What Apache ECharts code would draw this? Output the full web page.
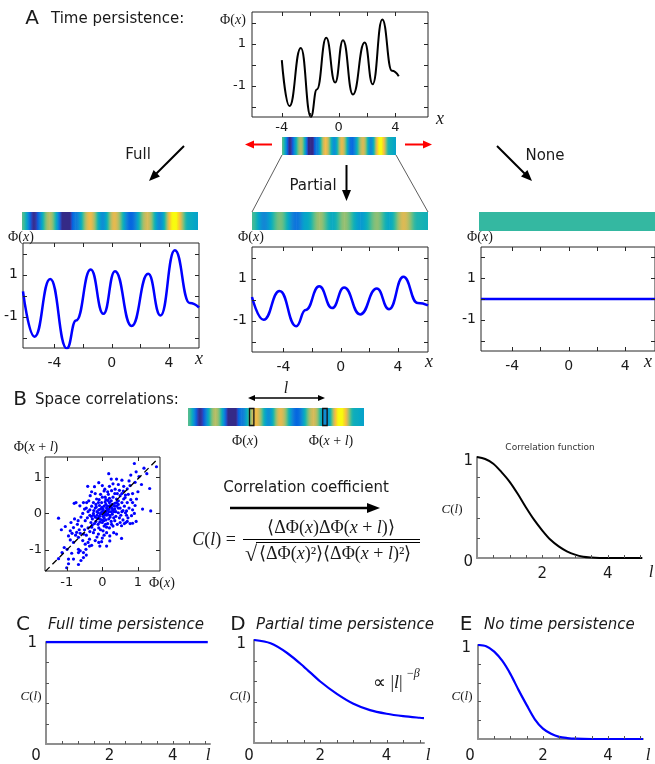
<!DOCTYPE html>
<html><head><meta charset="utf-8">
<script src="https://cdn.jsdelivr.net/npm/echarts@6/dist/echarts.min.js"></script>
<style>html,body{margin:0;padding:0;background:#fff}#c{width:655px;height:764px}</style>
</head><body><div id="c"></div>
<script>
// ---------------- DATA ----------------
// Panel A top: field snapshot (black curve), x and Phi at extrema / bends
const topX   = [-4.0, -3.46, -2.66, -1.95, -1.53, -0.87, -0.24, 0.31, 1.01, 1.84, 2.40, 3.08, 3.76, 4.24];
const topPhi = [0.21, -1.98, 0.79, -2.49, -1.19, 1.27, -0.86, 1.16, -1.43, 1.05, -0.94, 2.14, -0.30, -0.56];
// Full time persistence
const fullX   = [-6.2, -5.39, -4.30, -3.14, -2.49, -1.47, -0.58, 0.23, 1.39, 2.55, 3.41, 4.41, 5.45, 6.1];
const fullPhi = [0.20, -1.96, 0.79, -2.52, -1.19, 1.24, -0.87, 1.16, -1.45, 1.03, -0.95, 2.15, -0.36, -0.57];
// Partial time persistence
const partialX   = [-6.2, -5.39, -4.27, -3.11, -2.45, -1.50, -0.60, 0.24, 1.36, 2.52, 3.38, 4.38, 5.38, 6.1];
const partialPhi = [0.12, -0.97, 0.41, -1.27, -0.50, 0.63, -0.41, 0.57, -0.71, 0.52, -0.46, 1.08, -0.17, -0.28];
// No time persistence
const noneX   = [-6.2, 6.1];
const nonePhi = [0, 0];
// Colour limits of the colour bars
const colorLimits = [-2, 2];
// Panel B: positions of the two marked cells on the colour bar
const markerX = [-1.75, 3.37];
// Panel B scatter: [Phi(x), Phi(x+l)]
const scatterPoints = [
[0.90,1.38],[1.52,1.29],[1.17,1.25],[0.80,1.06],[1.03,1.02],[0.18,1.10],[1.33,0.69],[0.00,0.77],[-0.41,0.75],[-0.22,0.74],
[0.78,0.77],[0.92,0.86],[0.96,0.40],[1.13,0.12],[1.36,0.07],[-0.34,0.49],[-0.16,0.40],[0.07,0.67],[0.26,0.63],[0.36,0.67],
[0.48,0.64],[0.59,0.62],[0.65,0.51],[0.73,0.53],[0.50,0.49],[0.40,0.40],[0.17,0.53],[-0.05,0.53],[-0.11,0.30],[-0.25,0.30],
[-0.44,0.30],[-0.53,0.30],[-0.74,0.30],[-0.79,0.28],[-0.63,0.21],[-0.50,0.12],[-0.30,0.20],[-0.20,0.15],[-0.10,0.10],[0.00,0.05],
[0.05,0.20],[0.10,0.25],[0.15,0.12],[0.20,0.30],[0.25,0.18],[0.30,0.10],[0.35,0.28],[0.40,0.20],[0.45,0.35],[0.50,0.15],
[0.55,0.30],[0.60,0.40],[0.62,0.20],[0.70,0.30],[0.75,0.15],[0.80,0.38],[-0.40,0.05],[-0.35,-0.05],[-0.25,0.00],[-0.15,-0.05],
[-0.05,-0.02],[0.02,-0.08],[0.08,0.00],[0.12,-0.05],[0.18,0.05],[0.22,-0.10],[0.28,-0.02],[0.32,0.05],[0.38,-0.08],[0.45,0.02],
[0.52,-0.05],[0.58,0.08],[0.65,0.02],[0.72,-0.12],[0.85,0.10],[0.92,0.22],[-0.60,-0.10],[-0.55,0.00],[-0.48,-0.20],[-0.42,-0.12],
[-0.32,-0.25],[-0.28,-0.15],[-0.18,-0.22],[-0.12,-0.30],[-0.08,-0.15],[0.00,-0.25],[0.05,-0.35],[0.10,-0.18],[0.15,-0.28],[0.20,-0.40],
[0.25,-0.22],[0.30,-0.35],[0.35,-0.20],[0.42,-0.30],[0.50,-0.25],[0.58,-0.18],[0.62,-0.28],[0.70,-0.22],[0.78,-0.28],[0.85,-0.27],
[0.95,-0.22],[0.68,-0.05],[0.55,0.55],[0.42,0.55],[0.30,0.45],[0.20,0.42],[0.10,0.38],[-0.02,0.30],[-0.08,0.22],[0.02,0.12],
[0.08,0.45],[0.15,0.60],[0.25,0.35],[0.35,0.55],[0.45,0.15],[0.12,0.15],[-1.23,-0.13],[-1.04,-0.36],[-1.15,-0.45],[-0.90,-0.48],
[-0.81,-0.39],[-0.72,-0.52],[-0.67,-0.66],[-0.53,-0.57],[-0.36,-0.71],[-0.25,-0.53],[-0.11,-0.57],[-0.02,-0.78],[0.12,-0.53],[0.21,-0.62],
[0.32,-0.53],[0.40,-0.57],[0.54,-0.34],[0.66,-0.25],[-0.90,-0.73],[-0.81,-0.80],[-0.67,-0.99],[-0.62,-1.03],[-1.07,-0.94],[-0.99,-0.99],
[-1.13,-1.08],[-0.86,-1.10],[-0.67,-1.08],[-0.53,-1.08],[-0.46,-0.99],[-0.36,-0.90],[-0.07,-0.90],[0.12,-0.90],[0.21,-0.76],[0.54,-0.69],
[-1.23,-1.25],[-0.95,-1.26],[-0.81,-1.26],[-0.53,-1.22],[-0.67,-1.41],[-0.95,-1.39],[-1.00,-1.50],[-0.60,-1.30],[-0.45,-1.15],[-0.70,-0.30],
[-0.65,-0.45],[-0.58,-0.35],[-0.50,-0.45],[-0.45,-0.60],[-0.40,-0.40],[-0.35,-0.50],[-0.30,-0.38],[-0.22,-0.45],[-0.15,-0.65],[-0.05,-0.45],
[0.05,-0.60],[0.02,-0.48],[-0.55,-0.75],[-0.48,-0.85],[-0.40,-0.80],[-0.30,-0.88],[-0.20,-0.75],[-0.10,-0.80],[0.00,-0.68],[-0.75,-0.60],
[-0.85,-0.55],[-0.95,-0.62],[-0.78,-0.15],[-0.88,-0.25],[-0.68,-0.20],[-0.62,-0.55],[-0.25,-0.05],[-0.45,0.15],[-0.38,0.35],[-0.20,0.55],
[-0.30,0.60],[0.00,0.45],[0.05,0.62],[0.20,0.75],[0.30,0.82],[0.45,0.80],[0.60,0.75],[0.70,0.68],[0.85,0.55],[0.40,0.95],
[0.55,0.92],[0.25,0.95],[-0.10,0.85],[0.75,0.90],[1.00,0.60],[1.10,0.80],[0.95,1.15],[1.25,1.10],[0.85,0.30],[0.82,-0.06],
[0.90,0.00],[0.68,0.07],[0.64,0.44],[-0.15,0.05],[0.05,-0.12],[0.15,-0.02],[-0.05,0.12],[0.25,0.05],[-0.20,-0.10],[0.35,0.12],
[-0.12,0.02],[0.03,0.08],[0.18,-0.15],[-0.02,-0.18],[0.10,0.05],[-0.08,-0.08],[0.22,0.22],[0.28,0.25],[-0.18,0.25],[0.12,-0.38],
[-0.28,-0.32],[0.40,0.30],[0.48,-0.12],[-0.35,0.10],[0.08,0.32],[0.32,-0.12],[-0.22,-0.28],[0.15,0.20],[0.55,0.05],[-0.10,-0.40],
[-0.04,0.02],[0.06,-0.04],[-0.01,0.17],[0.13,0.09],[-0.14,-0.13],[0.19,0.12],[0.27,0.14],[-0.07,-0.24],[0.04,-0.20],[0.21,-0.05],
[-0.24,0.08],[0.34,0.20],[0.09,-0.30],[-0.17,0.18],[0.38,0.05],[-0.31,-0.08],[0.26,-0.30],[0.45,0.25],[-0.09,0.38],[0.16,0.36]
];
const diagX = [-1.6, 1.5];
const diagY = [-1.6, 1.45];
// Panel B right: correlation function
const corrBL = [0,0.25,0.5,0.75,1,1.25,1.5,1.75,2,2.25,2.5,2.75,3,3.25,3.5,3.75,4,4.5,5.05];
const corrBC = [1,0.98,0.934,0.85,0.754,0.633,0.50,0.377,0.272,0.18,0.115,0.066,0.033,0.013,0.005,0.001,0,0,0];
// Panel C
const fullCorrL = [0, 5.1];
const fullCorrC = [1, 1];
// Panel D
const partialCorrL = [0,0.5,1,1.5,2,2.5,3,3.5,4,4.5,5,5.13];
const partialCorrC = [1,0.968,0.874,0.742,0.597,0.477,0.381,0.319,0.284,0.261,0.245,0.242];
// Panel E
const noneCorrL = [0,0.25,0.5,0.75,1,1.25,1.5,1.75,2,2.25,2.5,2.75,3,3.5,4,4.5,5.08];
const noneCorrC = [1,0.987,0.93,0.83,0.69,0.52,0.36,0.21,0.11,0.056,0.023,0.01,0.003,0,0,0,0];
// Tick labels
const phiTickValues = [-2,-1,0,1,2];
const phiLabelValues = [-1, 1];
const xTickValues = [-4,-2,0,2,4];
const xLabelValues = [-4, 0, 4];
const scatterTicks = [-1, 0, 1];
const lLabelValues = [0, 2, 4];
const lTickValues = [0.5,1,1.5,2,2.5,3,3.5,4,4.5,5];
const cTickValues = [0.2,0.4,0.6,0.8];

// ---------------- STYLE ----------------
const SANS = 'DejaVu Sans';
const SERIF = 'Liberation Serif';
const INK = '#1a1a1a';
const BLUE = '#0000ff';
const PARULA = [
 [0,[53,42,135]],[4/63,[50,67,186]],[8/63,[3,99,225]],[12/63,[13,117,220]],[16/63,[20,133,212]],
 [20/63,[9,152,209]],[24/63,[6,167,198]],[28/63,[21,177,180]],[32/63,[56,185,158]],[36/63,[101,190,134]],
 [40/63,[146,191,115]],[44/63,[183,189,100]],[48/63,[217,186,86]],[52/63,[248,187,68]],[56/63,[252,206,46]],
 [60/63,[245,228,29]],[1,[249,251,14]]
];
function parula(v){
  let t = (v - colorLimits[0]) / (colorLimits[1] - colorLimits[0]);
  t = Math.max(0, Math.min(1, t));
  for (let i = 0; i < PARULA.length - 1; i++) {
    const a = PARULA[i], b = PARULA[i+1];
    if (t <= b[0]) {
      const f = (t - a[0]) / (b[0] - a[0]);
      const c = a[1].map((u, k) => Math.round(u + (b[1][k] - u) * f));
      return 'rgb(' + c.join(',') + ')';
    }
  }
  return 'rgb(249,251,14)';
}

const grids = [], xAxes = [], yAxes = [], series = [];
function addGrid(left, top, width, height, box){
  grids.push({left, top, width, height, containLabel:false, show:!!box, borderColor:'#262626', borderWidth:1, backgroundColor:'transparent'});
  return grids.length - 1;
}
function hiddenAxes(gi, xr, yr){
  xAxes.push({type:'value', gridIndex:gi, min:xr[0], max:xr[1], show:false});
  yAxes.push({type:'value', gridIndex:gi, min:yr[0], max:yr[1], show:false});
  return [xAxes.length-1, yAxes.length-1];
}
const NOLINE = {show:false, onZero:false};
function lbl(vals, margin, fs){ return {show:true, customValues:vals, margin, fontSize:fs, fontFamily:SANS, color:INK}; }
// Inside tick marks, placed through the axes' own scales (one item per grid draws all its ticks)
function tickSeries(ax, xr, yr, xt, yt, o){
  const xm = (xr[0] + xr[1]) / 2, ym = (yr[0] + yr[1]) / 2;
  series.push({type:'custom', xAxisIndex:ax[0], yAxisIndex:ax[1], data:[[xm, ym]], encode:{x:0, y:1}, silent:true, animation:false, z:6, clip:false,
    renderItem:(params, api) => {
      const cs = params.coordSys, L = o.len;
      const st = {stroke:o.color, lineWidth:o.width};
      const kids = [];
      xt.forEach(v => {
        const px = Math.round(api.coord([v, ym])[0]) + 0.5, b = cs.y + cs.height;
        kids.push({type:'line', shape:{x1:px, y1:b, x2:px, y2:b - L}, style:st});
        if (o.both) kids.push({type:'line', shape:{x1:px, y1:cs.y, x2:px, y2:cs.y + L}, style:st});
      });
      yt.forEach(v => {
        const py = Math.round(api.coord([xm, v])[1]) + 0.5;
        kids.push({type:'line', shape:{x1:cs.x, y1:py, x2:cs.x + L, y2:py}, style:st});
        if (o.both) kids.push({type:'line', shape:{x1:cs.x + cs.width, y1:py, x2:cs.x + cs.width - L, y2:py}, style:st});
      });
      return {type:'group', children:kids};
    }});
}
function boxAxes(gi, xr, yr, o){
  const xi = xAxes.length;
  xAxes.push({type:'value', gridIndex:gi, min:xr[0], max:xr[1], position:'bottom', axisLine:NOLINE, splitLine:{show:false}, axisTick:{show:false}, axisLabel:lbl(o.xLabels, o.xMargin, o.fs)});
  const yi = yAxes.length;
  yAxes.push({type:'value', gridIndex:gi, min:yr[0], max:yr[1], position:'left', axisLine:NOLINE, splitLine:{show:false}, axisTick:{show:false}, axisLabel:lbl(o.yLabels, o.yMargin, o.fs)});
  tickSeries([xi, yi], xr, yr, o.xTicks, o.yTicks, {len:4, color:'#262626', width:1, both:true});
  return [xi, yi];
}
function mathAxes(gi, xmax, o){
  const axLine = {show:true, onZero:false, lineStyle:{color:'#8f8f8f', width:2}};
  const xi = xAxes.length;
  xAxes.push({type:'value', gridIndex:gi, min:0, max:xmax, axisLine:axLine, splitLine:{show:false}, axisTick:{show:false},
    axisLabel:{show:true, customValues:o.xLabels, margin:o.xMargin, fontSize:15, fontFamily:SANS, color:INK,
      formatter: v => (v === 0 ? '{z|0}' : '{a|' + v + '}'),
      rich:{z:{fontSize:15, fontFamily:SANS, color:INK, padding:[0, o.zeroShift*2, 0, 0]}, a:{fontSize:15, fontFamily:SANS, color:INK}}}});
  const yi = yAxes.length;
  yAxes.push({type:'value', gridIndex:gi, min:0, max:1, axisLine:axLine, splitLine:{show:false}, axisTick:{show:false},
    axisLabel:{show:true, customValues:o.yLabels, margin:o.yMargin, fontSize:15, fontFamily:SANS, color:INK,
      formatter: v => '{a|' + v + '}',
      rich:{a:{fontSize:15, fontFamily:SANS, color:INK, padding:[o.yPad, 0, 0, 0]}}}});
  tickSeries([xi, yi], [0, xmax], [0, 1], lTickValues, cTickValues, {len:3, color:'#555', width:1, both:false});
  return [xi, yi];
}
function lineSeries(ax, xs, ys, color, width, smooth, extra){
  series.push(Object.assign({type:'line', xAxisIndex:ax[0], yAxisIndex:ax[1], data:xs.map((x,i)=>[x, ys[i]]),
    showSymbol:false, symbol:'none', smooth:smooth, lineStyle:{color, width}, itemStyle:{color}, silent:true, animation:false, z:3}, extra || {}));
}
// wave curves: horizontal tangents at every extremum
const WAVE = {smoothMonotone:'x'};
function renderBar(params, api){
  const x0 = api.value(0), x1 = api.value(1), v0 = api.value(2), v1 = api.value(3);
  const p0 = api.coord([x0, 1]), p1 = api.coord([x1, 0]);
  const stops = [];
  for (let k = 0; k <= 12; k++) {
    const t = k / 12;
    const v = v0 + (v1 - v0) * (1 - Math.cos(Math.PI * t)) / 2;
    stops.push({offset:t, color:parula(v)});
  }
  return {type:'rect', shape:{x:p0[0], y:p0[1], width:p1[0]-p0[0]+0.6, height:p1[1]-p0[1]},
    style:{fill:new echarts.graphic.LinearGradient(0, 0, 1, 0, stops)}};
}
function barSeries(ax, xs, ys){
  const data = [];
  for (let i = 0; i < xs.length - 1; i++) data.push([xs[i], xs[i+1], ys[i], ys[i+1]]);
  series.push({type:'custom', xAxisIndex:ax[0], yAxisIndex:ax[1], data, encode:{x:[0,1], y:[2,3]}, renderItem:renderBar, silent:true, animation:false, clip:true});
}

// ---- Panel A top ----
let gi = addGrid(252, 12, 176, 105, true);
let ax = boxAxes(gi, [-6.1, 6.3], [-2.5, 2.5], {xTicks:xTickValues, xLabels:xLabelValues, yTicks:phiTickValues, yLabels:phiLabelValues, xMargin:4, yMargin:6, fs:13});
lineSeries(ax, topX, topPhi, '#000', 2, 0.5, WAVE);
gi = addGrid(282, 137, 114, 18, false);
barSeries(hiddenAxes(gi, [topX[0], topX[topX.length-1]], [0, 1]), topX, topPhi);

// ---- Full ----
gi = addGrid(22, 212, 176, 18, false);
barSeries(hiddenAxes(gi, [-6.2, 6.1], [0, 1]), fullX, fullPhi);
gi = addGrid(23, 243, 176, 105, true);
ax = boxAxes(gi, [-6.2, 6.1], [-2.5, 2.5], {xTicks:xTickValues, xLabels:xLabelValues, yTicks:phiTickValues, yLabels:phiLabelValues, xMargin:8, yMargin:5, fs:14});
lineSeries(ax, fullX, fullPhi, BLUE, 2.5, 0.5, WAVE);

// ---- Partial ----
gi = addGrid(252, 212, 176, 18, false);
barSeries(hiddenAxes(gi, [-6.2, 6.1], [0, 1]), partialX, partialPhi);
gi = addGrid(252, 247, 176, 105, true);
ax = boxAxes(gi, [-6.2, 6.1], [-2.5, 2.5], {xTicks:xTickValues, xLabels:xLabelValues, yTicks:phiTickValues, yLabels:phiLabelValues, xMargin:8, yMargin:5, fs:14});
lineSeries(ax, partialX, partialPhi, BLUE, 2.5, 0.5, WAVE);

// ---- None ----
gi = addGrid(479, 212, 190, 19, false);
barSeries(hiddenAxes(gi, [-6.2, 6.1], [0, 1]), noneX, nonePhi);
gi = addGrid(481, 247, 176, 104, true);
ax = boxAxes(gi, [-6.2, 6.1], [-2.5, 2.5], {xTicks:xTickValues, xLabels:xLabelValues, yTicks:phiTickValues, yLabels:phiLabelValues, xMargin:8, yMargin:5, fs:14});
lineSeries(ax, noneX, nonePhi, BLUE, 2.5, false);

// ---- Panel B colour bar with marked cells ----
gi = addGrid(188, 408, 176, 18, false);
const bAx = hiddenAxes(gi, [-6.2, 6.1], [0, 1]);
barSeries(bAx, fullX, fullPhi);
series.push({type:'custom', xAxisIndex:bAx[0], yAxisIndex:bAx[1], data:markerX.map(x=>[x, 0.5]), encode:{x:0, y:1}, silent:true, animation:false, z:4,
  renderItem:(params, api) => {
    const a = api.coord([api.value(0), 1]), b = api.coord([api.value(0), 0]);
    return {type:'rect', shape:{x:a[0]-2.2, y:a[1]+0.5, width:4.4, height:b[1]-a[1]-1}, style:{fill:null, stroke:'#111', lineWidth:1.3}};
  }});

// ---- Panel B scatter ----
gi = addGrid(45, 457, 115, 114, true);
ax = boxAxes(gi, [-1.61, 1.62], [-1.59, 1.56], {xTicks:scatterTicks, xLabels:scatterTicks, yTicks:scatterTicks, yLabels:scatterTicks, xMargin:5, yMargin:3, fs:13});
series.push({type:'scatter', xAxisIndex:ax[0], yAxisIndex:ax[1], data:scatterPoints, symbolSize:3.2, itemStyle:{color:BLUE, opacity:1}, silent:true, animation:false, z:3});
lineSeries(ax, diagX, diagY, '#000', 1.3, false, {lineStyle:{color:'#000', width:1.3, type:[6,4]}, z:4});

// ---- Panel B correlation function ----
gi = addGrid(477, 457, 165, 101, false);
ax = mathAxes(gi, 5.05, {xLabels:[2,4], xMargin:9, zeroShift:0, yLabels:[0,1], yMargin:4, yPad:8});
lineSeries(ax, corrBL, corrBC, '#000', 2, 0.3);

// ---- C ----
gi = addGrid(46, 642, 164, 102, false);
ax = mathAxes(gi, 5.17, {xLabels:lLabelValues, xMargin:5, zeroShift:10, yLabels:[1], yMargin:9, yPad:2});
lineSeries(ax, fullCorrL, fullCorrC, BLUE, 2.5, false);
// ---- D ----
gi = addGrid(254, 640, 170, 103, false);
ax = mathAxes(gi, 5.13, {xLabels:lLabelValues, xMargin:6, zeroShift:5, yLabels:[1], yMargin:8, yPad:8});
lineSeries(ax, partialCorrL, partialCorrC, BLUE, 2.2, 0.3);
// ---- E ----
gi = addGrid(478, 645, 165, 102, false);
ax = mathAxes(gi, 5.08, {xLabels:lLabelValues, xMargin:10, zeroShift:8, yLabels:[1], yMargin:7, yPad:6});
lineSeries(ax, noneCorrL, noneCorrC, BLUE, 2.2, 0.3);

// ---------------- ANNOTATIONS ----------------
const G = [];
function txt(x, y, text, o){
  G.push({type:'text', x, y, silent:true, z:10, style:Object.assign({text, fontSize:15, fontFamily:SANS, fill:INK, align:'center', verticalAlign:'middle'}, o || {})});
}
function mtxt(x, y, text, fs, o){
  txt(x, y, text, Object.assign({fontSize:fs, fontFamily:SERIF, rich:{
    r:{fontSize:fs, fontFamily:SERIF, fill:INK},
    i:{fontSize:fs, fontFamily:SERIF, fontStyle:'italic', fill:INK}}}, o || {}));
}
function seg(x1, y1, x2, y2, color, w, dash){
  G.push({type:'line', silent:true, z:10, shape:{x1, y1, x2, y2}, style:{stroke:color, lineWidth:w, lineDash:dash || null}});
}
function arrow(x1, y1, x2, y2, color, w, hl, hw, both){
  const ang = Math.atan2(y2 - y1, x2 - x1), c = Math.cos(ang), s = Math.sin(ang);
  const head = (px, py, dir) => {
    const bx = px - dir*hl*c, by = py - dir*hl*s, nx = -s*hw/2, ny = c*hw/2;
    G.push({type:'polygon', silent:true, z:10, shape:{points:[[px,py],[bx+nx,by+ny],[bx-nx,by-ny]]}, style:{fill:color}});
    return [bx, by];
  };
  const e = head(x2, y2, 1);
  let st = [x1, y1];
  if (both) st = head(x1, y1, -1);
  seg(st[0], st[1], e[0] + c*0.5, e[1] + s*0.5, color, w);
}

// Panel letters and headings
txt(32, 19, 'A', {fontSize:20});
txt(51, 19, 'Time persistence:', {align:'left'});
txt(20, 400, 'B', {fontSize:20});
txt(35, 400, 'Space correlations:', {align:'left'});
txt(23, 625, 'C', {fontSize:20});
txt(48, 625, 'Full time persistence', {align:'left', fontStyle:'italic'});
txt(238, 625, 'D', {fontSize:20});
txt(256, 625, 'Partial time persistence', {align:'left', fontStyle:'italic'});
txt(466, 625, 'E', {fontSize:20});
txt(484, 625, 'No time persistence', {align:'left', fontStyle:'italic'});

// Panel A annotations
mtxt(233, 20, '{r|Φ(}{i|x}{r|)}', 14);
mtxt(440, 119, '{i|x}', 18);
arrow(272, 144.5, 245, 144.5, '#ff0000', 2, 9, 8);
arrow(405, 144.5, 432, 144.5, '#ff0000', 2, 9, 8);
seg(282, 155, 252, 212, '#333', 0.8);
seg(396, 155, 428, 212, '#333', 0.8);
txt(138, 155, 'Full');
arrow(184, 146, 149, 181, '#000', 2, 11, 9);
txt(313, 186, 'Partial');
arrow(346.5, 165, 346.5, 201, '#000', 2, 11, 9);
txt(545, 156, 'None');
arrow(497, 146, 532, 181, '#000', 2, 11, 9);
mtxt(21, 237, '{r|Φ(}{i|x}{r|)}', 14);
mtxt(251, 237, '{r|Φ(}{i|x}{r|)}', 14);
mtxt(480, 237, '{r|Φ(}{i|x}{r|)}', 14);
mtxt(199, 359, '{i|x}', 18);
mtxt(429, 362, '{i|x}', 18);
mtxt(648, 362, '{i|x}', 18);

// Panel B annotations
arrow(248, 398, 325, 398, '#000', 1.3, 7, 6, true);
mtxt(286, 389, '{i|l}', 16);
mtxt(245, 441, '{r|Φ(}{i|x}{r|)}', 14);
mtxt(331, 441, '{r|Φ(}{i|x}{r| + }{i|l}{r|)}', 14);
mtxt(36, 447, '{r|Φ(}{i|x}{r| + }{i|l}{r|)}', 14);
mtxt(162, 583, '{r|Φ(}{i|x}{r|)}', 14);
txt(306, 488, 'Correlation coefficient');
arrow(230, 508, 380, 508, '#000', 2.5, 13, 10);
mtxt(214, 540, '{i|C}{r|(}{i|l}{r|) =}', 18);
mtxt(331, 528, '{r|⟨ΔΦ(}{i|x}{r|)ΔΦ(}{i|x}{r| + }{i|l}{r|)⟩}', 18);
seg(243, 539.5, 420, 539.5, '#000', 1);
txt(251, 555, '√', {fontSize:22, fontFamily:SERIF});
seg(256, 542.5, 420, 542.5, '#000', 1);
mtxt(259, 554, '{r|⟨ΔΦ(}{i|x}{r|)²⟩⟨ΔΦ(}{i|x}{r| + }{i|l}{r|)²⟩}', 18, {align:'left'});
txt(550, 448, 'Correlation function', {fontSize:9, fill:'#333'});
mtxt(452, 510, '{i|C}{r|(}{i|l}{r|)}', 13);
mtxt(651, 573, '{i|l}', 17);

// Panels C, D, E annotations
mtxt(31, 697, '{i|C}{r|(}{i|l}{r|)}', 13);
mtxt(240, 697, '{i|C}{r|(}{i|l}{r|)}', 13);
mtxt(462, 697, '{i|C}{r|(}{i|l}{r|)}', 13);
mtxt(208, 756, '{i|l}', 17);
mtxt(428, 756, '{i|l}', 17);
mtxt(648, 756, '{i|l}', 17);
mtxt(373, 683, '{r|∝ |}{i|l}{r||}', 18, {align:'left'});
mtxt(407, 674, '{r|−}{i|β}', 12, {align:'left'});

const chart = echarts.init(document.getElementById('c'), null, {renderer:'canvas', width:655, height:764});
chart.setOption({
  animation:false,
  textStyle:{fontFamily:SANS},
  grid:grids, xAxis:xAxes, yAxis:yAxes, series,
  graphic:{elements:G}
});
</script>
</body></html>
